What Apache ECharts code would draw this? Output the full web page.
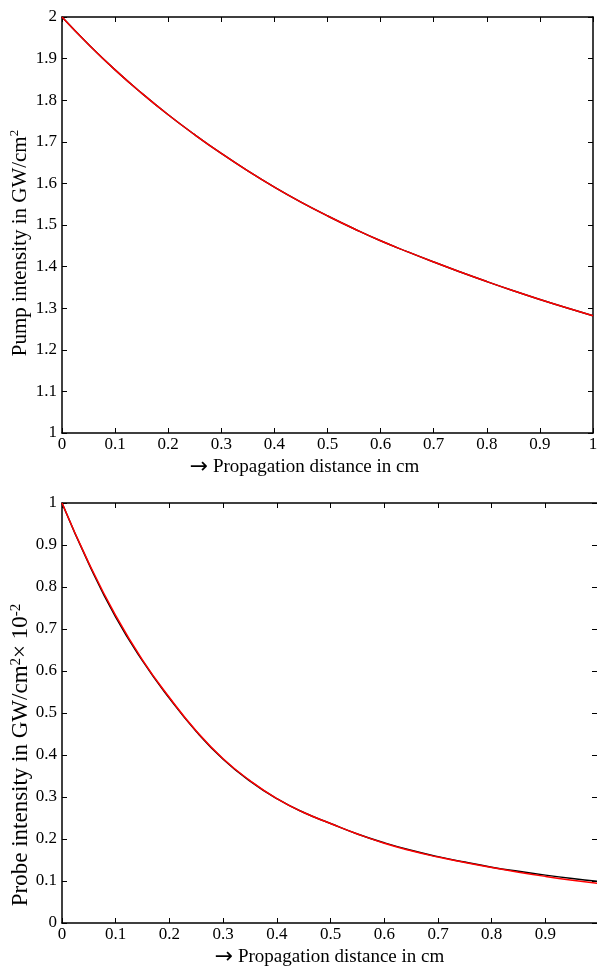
<!DOCTYPE html>
<html>
<head>
<meta charset="utf-8">
<script src="https://cdn.jsdelivr.net/npm/echarts@6/dist/echarts.min.js"></script>
<style>html,body{margin:0;padding:0;background:#fff}#c{width:597px;height:967px}</style>
</head>
<body>
<div id="c"></div>
<script>
// x positions (cm)
var distance = [0, 0.05, 0.1, 0.15, 0.2, 0.25, 0.3, 0.35, 0.4, 0.45, 0.5, 0.55, 0.6, 0.65, 0.7, 0.75, 0.8, 0.85, 0.9, 0.95, 1.0];
// Pump intensity (GW/cm^2) - black (underneath) and red
var pumpBlack = [2.0, 1.934, 1.873, 1.817, 1.765, 1.717, 1.672, 1.630, 1.591, 1.555, 1.522, 1.491, 1.462, 1.436, 1.411, 1.387, 1.364, 1.342, 1.321, 1.301, 1.282];
var pumpRed   = [2.0, 1.934, 1.873, 1.817, 1.765, 1.717, 1.672, 1.630, 1.591, 1.555, 1.522, 1.491, 1.462, 1.436, 1.411, 1.387, 1.364, 1.342, 1.321, 1.301, 1.282];
// Probe intensity (GW/cm^2 x 10^-2)
var probeBlack = [1.0, 0.855, 0.728, 0.624, 0.535, 0.456, 0.390, 0.338, 0.296, 0.263, 0.237, 0.212, 0.191, 0.173, 0.158, 0.145, 0.133, 0.123, 0.114, 0.106, 0.099];
var probeRed   = [1.0, 0.857, 0.732, 0.626, 0.537, 0.457, 0.391, 0.339, 0.296, 0.263, 0.237, 0.212, 0.190, 0.172, 0.157, 0.144, 0.132, 0.121, 0.111, 0.102, 0.094];
var xTicks = [0, 0.1, 0.2, 0.3, 0.4, 0.5, 0.6, 0.7, 0.8, 0.9, 1];
var pumpTicks = [1, 1.1, 1.2, 1.3, 1.4, 1.5, 1.6, 1.7, 1.8, 1.9, 2];
var probeTicks = [0, 0.1, 0.2, 0.3, 0.4, 0.5, 0.6, 0.7, 0.8, 0.9, 1];
var probeXMax = 0.996; // lower panel is cut at the right edge of the picture

function pairs(xs, ys){ return xs.map(function(x,i){return [x, ys[i]];}); }
function fmt(v){ return String(Math.round(v*10)/10); }

var FONT = 'Liberation Serif';
var lineStyle = {color:'#000', width:1.5};
var tick = {show:true, inside:true, length:5, lineStyle:{color:'#000', width:1}};
var xName = '{arr|\u2192} Propagation distance in cm';

function mkX(grid, pos, labels, xmin, xmax, opts) {
  opts = opts || {};
  return {
    type:'value', gridIndex:grid, position:pos, min:xmin, max:xmax, interval:0.1,
    axisLine:{show:true, onZero:false, lineStyle:lineStyle},
    axisTick:tick, splitLine:{show:false},
    axisLabel:{show:labels, formatter:fmt, fontFamily:FONT, fontSize:17, color:'#000', margin:3,
      showMaxLabel: opts.showMax !== false},
    name: labels ? xName : '', nameLocation:'middle', nameGap:24, nameMoveOverlap:false,
    nameTextStyle:{fontFamily:FONT, fontSize:19, lineHeight:20, color:'#000', padding: opts.namePad || 0,
      rich:{ arr:{fontFamily:'DejaVu Sans', fontSize:22, lineHeight:20, color:'#000'} } }
  };
}
function mkY(grid, pos, labels, name, ymin, ymax, opts) {
  opts = opts || {};
  return {
    type:'value', gridIndex:grid, position:pos, min:ymin, max:ymax, interval:0.1,
    axisLine:{show: opts.hideLine ? false : true, onZero:false, lineStyle:lineStyle},
    axisTick:tick, splitLine:{show:false},
    axisLabel:{show:labels, formatter:fmt, fontFamily:FONT, fontSize:17, color:'#000', margin:5},
    name: labels ? name : '', nameLocation:'middle', nameGap:opts.gap || 24, nameRotate:90, nameMoveOverlap:false,
    nameTextStyle:{fontFamily:FONT, fontSize:opts.fs || 21, color:'#000', lineHeight:24, padding: opts.namePad || 0,
      rich:{ sup:{fontFamily:FONT, fontSize:opts.sup || 13, verticalAlign:'top', lineHeight:24, color:'#000'} } }
  };
}

var chart = echarts.init(document.getElementById('c'), null, {renderer:'canvas'});
chart.setOption({
  animation:false,
  backgroundColor:'#fff',
  grid:[
    {left:62, top:17, width:531, height:416, containLabel:false, outerBoundsMode:'none'},
    {left:62, top:503, width:535, height:420, containLabel:false, outerBoundsMode:'none'}
  ],
  xAxis:[
    mkX(0,'bottom',true,xTicks[0],xTicks[xTicks.length-1],{namePad:[0,46,0,0]}),
    mkX(0,'top',false,xTicks[0],xTicks[xTicks.length-1]),
    mkX(1,'bottom',true,xTicks[0],probeXMax,{showMax:false}),
    mkX(1,'top',false,xTicks[0],probeXMax)
  ],
  yAxis:[
    mkY(0,'left',true,'Pump intensity in GW/cm{sup|2}',pumpTicks[0],pumpTicks[pumpTicks.length-1],{namePad:[0,36,0,0], fs:21, gap:30}),
    mkY(0,'right',false,'',pumpTicks[0],pumpTicks[pumpTicks.length-1]),
    mkY(1,'left',true,'Probe intensity in GW/cm{sup|2}\u00d7 10{sup|-2}',probeTicks[0],probeTicks[probeTicks.length-1],{namePad:[0,84,0,0], fs:23, sup:15, gap:29}),
    mkY(1,'right',false,'',probeTicks[0],probeTicks[probeTicks.length-1],{hideLine:true})
  ],
  series:[
    {type:'line', xAxisIndex:0, yAxisIndex:0, data:pairs(distance,pumpBlack), smooth:true, showSymbol:false, lineStyle:{color:'#000', width:1.5}},
    {type:'line', xAxisIndex:0, yAxisIndex:0, data:pairs(distance,pumpRed), smooth:true, showSymbol:false, lineStyle:{color:'#ff0000', width:1.5}},
    {type:'line', xAxisIndex:2, yAxisIndex:2, data:pairs(distance,probeBlack), smooth:true, showSymbol:false, lineStyle:{color:'#000', width:1.5}},
    {type:'line', xAxisIndex:2, yAxisIndex:2, data:pairs(distance,probeRed), smooth:true, showSymbol:false, lineStyle:{color:'#ff0000', width:1.5}}
  ]
});
</script>
</body>
</html>
